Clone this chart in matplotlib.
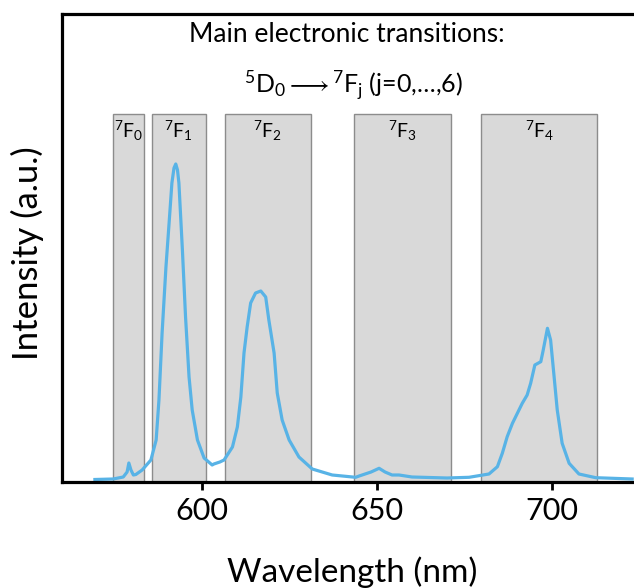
import numpy as np
import matplotlib
matplotlib.use("Agg")
import matplotlib.pyplot as plt

plt.rcParams["font.family"] = ["Lato", "DejaVu Sans"]
plt.rcParams["mathtext.fontset"] = "custom"
plt.rcParams["mathtext.rm"] = "Lato"
plt.rcParams["mathtext.it"] = "Lato:italic"

# Emission spectrum (wavelength in nm, intensity in a.u.)
wavelength = [569.4, 574.6, 577.5, 578.6, 579.1, 579.7, 580.4, 581.1, 582.9, 585.4,
              586.9, 587.7, 588.6, 589.7, 590.6, 591.4, 592.0, 592.5, 593.0, 593.4,
              594.4, 595.3, 596.3, 597.2, 598.7, 600.6, 602.9, 603.4, 605.1, 606.3,
              608.7, 610.1, 611.1, 612.0, 612.9, 613.9, 615.3, 616.8, 618.2, 619.1,
              620.6, 621.5, 622.9, 624.9, 627.7, 631.5, 637.2, 643.9, 644.9, 648.3,
              650.6, 652.3, 654.3, 656.3, 660.0, 670.0, 676.3, 682.0, 684.4, 685.8,
              687.2, 688.7, 690.1, 691.5, 692.9, 693.9, 695.1, 696.8, 697.4, 698.7,
              699.6, 700.6, 701.5, 702.9, 704.9, 707.7, 712.5, 722.9]
intensity = [2.5, 3.0, 5.0, 10.0, 19.0, 12.0, 7.0, 7.5, 12.0, 22.0,
             42.0, 82.0, 149.0, 215.0, 259.0, 299.0, 314.0, 318.0, 312.0, 299.0,
             232.0, 165.0, 105.0, 72.0, 42.0, 24.0, 17.0, 18.0, 20.0, 22.0,
             35.0, 55.0, 85.0, 129.0, 155.0, 179.0, 189.0, 191.0, 185.0, 162.0,
             129.0, 89.0, 62.0, 42.0, 25.0, 13.0, 7.0, 4.7, 6.0, 10.0,
             13.7, 10.0, 7.0, 7.0, 5.0, 4.0, 4.7, 8.0, 15.3, 28.7,
             45.3, 58.7, 68.7, 78.7, 87.0, 98.7, 117.0, 120.3, 130.3, 153.7,
             142.0, 105.3, 72.0, 38.7, 18.7, 8.0, 4.3, 3.0]

# 5D0 -> 7Fj transition bands
band_labels = [r"$\mathregular{^7F_0}$", r"$\mathregular{^7F_1}$", r"$\mathregular{^7F_2}$",
               r"$\mathregular{^7F_3}$", r"$\mathregular{^7F_4}$"]
band_start = [574.6, 585.6, 606.6, 643.4, 679.8]
band_end = [583.5, 601.1, 631.1, 671.2, 712.9]
band_top = 368

fig = plt.figure(figsize=(6.34, 5.88), dpi=100)
ax = fig.add_axes([62 / 634, 106 / 588, 595 / 634, 468 / 588])

for lab, s, e in zip(band_labels, band_start, band_end):
    ax.bar((s + e) / 2, band_top, width=e - s, color="#d9d9d9",
           edgecolor="#8c8c8c", linewidth=1.0, zorder=1)
    ax.text((s + e) / 2, band_top - 5, lab, ha="center", va="top",
            fontsize=14, zorder=3)

ax.plot(wavelength, intensity, color="#58b3e6", linewidth=2.3, zorder=2)

ax.set_xlim(560, 730)
ax.set_ylim(0, 468)
ax.set_xticks([600, 650, 700])
ax.set_yticks([])
ax.tick_params(axis="x", direction="out", length=6, width=2, pad=5, labelsize=22)
for side in ["left", "top", "bottom"]:
    ax.spines[side].set_linewidth(2.3)
ax.spines["right"].set_visible(False)

ax.set_xlabel("Wavelength (nm)", fontsize=24)
ax.xaxis.set_label_coords(0.488, -0.160)
ax.xaxis.label.set_verticalalignment("top")
ax.set_ylabel("Intensity (a.u.)", fontsize=25)
ax.yaxis.set_label_coords(-0.03, 0.49)

fig.text(347 / 634, 1 - 42 / 588, "Main electronic transitions:", ha="center",
         va="baseline", fontsize=19)
fig.text(353 / 634, 1 - 93 / 588,
         r"$\mathregular{^5D_0 \longrightarrow {}^7F_j}$ (j=0,…,6)",
         ha="center", va="baseline", fontsize=18)

fig.savefig("out.png", dpi=100)
